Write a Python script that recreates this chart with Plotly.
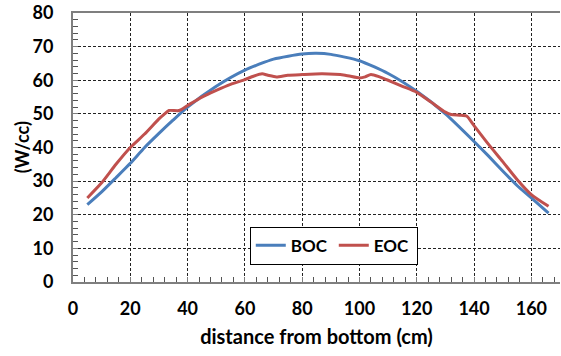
import plotly.graph_objects as go

# BOC power distribution (W/cc) vs distance from bottom (cm)
boc_x = [5, 10, 15, 20, 25, 30, 35, 40, 50, 60, 70, 80, 85, 90, 100, 110, 120, 130, 140, 145, 150, 155, 160, 166]
boc_y = [23, 26.8, 31, 35.3, 40, 44.2, 48.2, 52, 58.2, 63, 66.3, 67.8, 68, 67.7, 65.8, 62, 56.7, 50, 41.8, 37.5, 33, 28.7, 25, 20.5]

# EOC power distribution
eoc_x = [5, 10, 15, 20, 25, 30, 32, 33.5, 37, 40, 45, 50, 55, 60, 63, 66, 68, 71, 75, 80, 87, 95, 100, 102, 104, 107,
         110, 115, 120, 125, 130, 132, 135, 137.5, 140, 145, 150, 155, 160, 166]
eoc_y = [25, 29.5, 35, 40, 44, 48.5, 50, 51, 51, 52.5, 55, 57, 58.8, 60.2, 61.2, 61.9, 61.5, 61, 61.5, 61.7, 61.9, 61.5,
         60.7, 61, 61.7, 61, 60, 58.2, 56.4, 53.5, 50.5, 49.8, 49.6, 49.3, 46.5, 41, 35.8, 30.5, 26, 22.5]

x_title = "distance from bottom (cm)"
y_title = "(W/cc)"

FONT = "Lato"
fig = go.Figure()
fig.add_trace(go.Scatter(x=boc_x, y=boc_y, mode="lines", name="BOC",
                         line=dict(color="#4a7ebb", width=3, shape="spline", smoothing=0.6)))
fig.add_trace(go.Scatter(x=eoc_x, y=eoc_y, mode="lines", name="EOC",
                         line=dict(color="#c0504d", width=3, shape="spline", smoothing=0.6)))

fig.update_layout(
    width=561, height=356,
    margin=dict(l=73, r=1, t=13, b=74),
    plot_bgcolor="white", paper_bgcolor="white",
    font=dict(family=FONT, size=18, color="black", weight="bold"),
    legend=dict(x=0.363, y=0.206, xanchor="left", yanchor="top", orientation="h",
                bordercolor="black", borderwidth=1, bgcolor="white",
                font=dict(family=FONT, size=17, weight="bold"), itemwidth=30,
                entrywidth=38, entrywidthmode="pixels"),
    showlegend=True,
    annotations=[dict(text=y_title, xref="paper", yref="paper", x=-0.105, y=0.5,
                      xanchor="center", yanchor="middle", textangle=-90, showarrow=False,
                      font=dict(family=FONT, size=18, weight="bold"))],
)
fig.update_xaxes(range=[0, 170], dtick=20, tick0=0,
                 showline=True, linecolor="#7f7f7f", linewidth=2, mirror=True,
                 showgrid=True, gridcolor="#222222", gridwidth=1, griddash="3px,2px",
                 ticks="inside", ticklen=5, tickcolor="#7f7f7f",
                 minor=dict(dtick=4, ticks="inside", ticklen=5, tickcolor="#555555", showgrid=False),
                 ticklabelstandoff=9, zeroline=False,
                 title=dict(text=x_title, font=dict(family=FONT, size=20, weight="bold"), standoff=12))
fig.update_yaxes(range=[0, 80], dtick=10, tick0=0,
                 showline=True, linecolor="#7f7f7f", linewidth=2, mirror=False,
                 showgrid=True, gridcolor="#222222", gridwidth=1, griddash="3px,2px",
                 ticks="inside", ticklen=5, tickcolor="#7f7f7f",
                 minor=dict(dtick=2, ticks="inside", ticklen=5, tickcolor="#555555", showgrid=False),
                 ticklabelstandoff=14, zeroline=False)

fig.write_html("out.html")
